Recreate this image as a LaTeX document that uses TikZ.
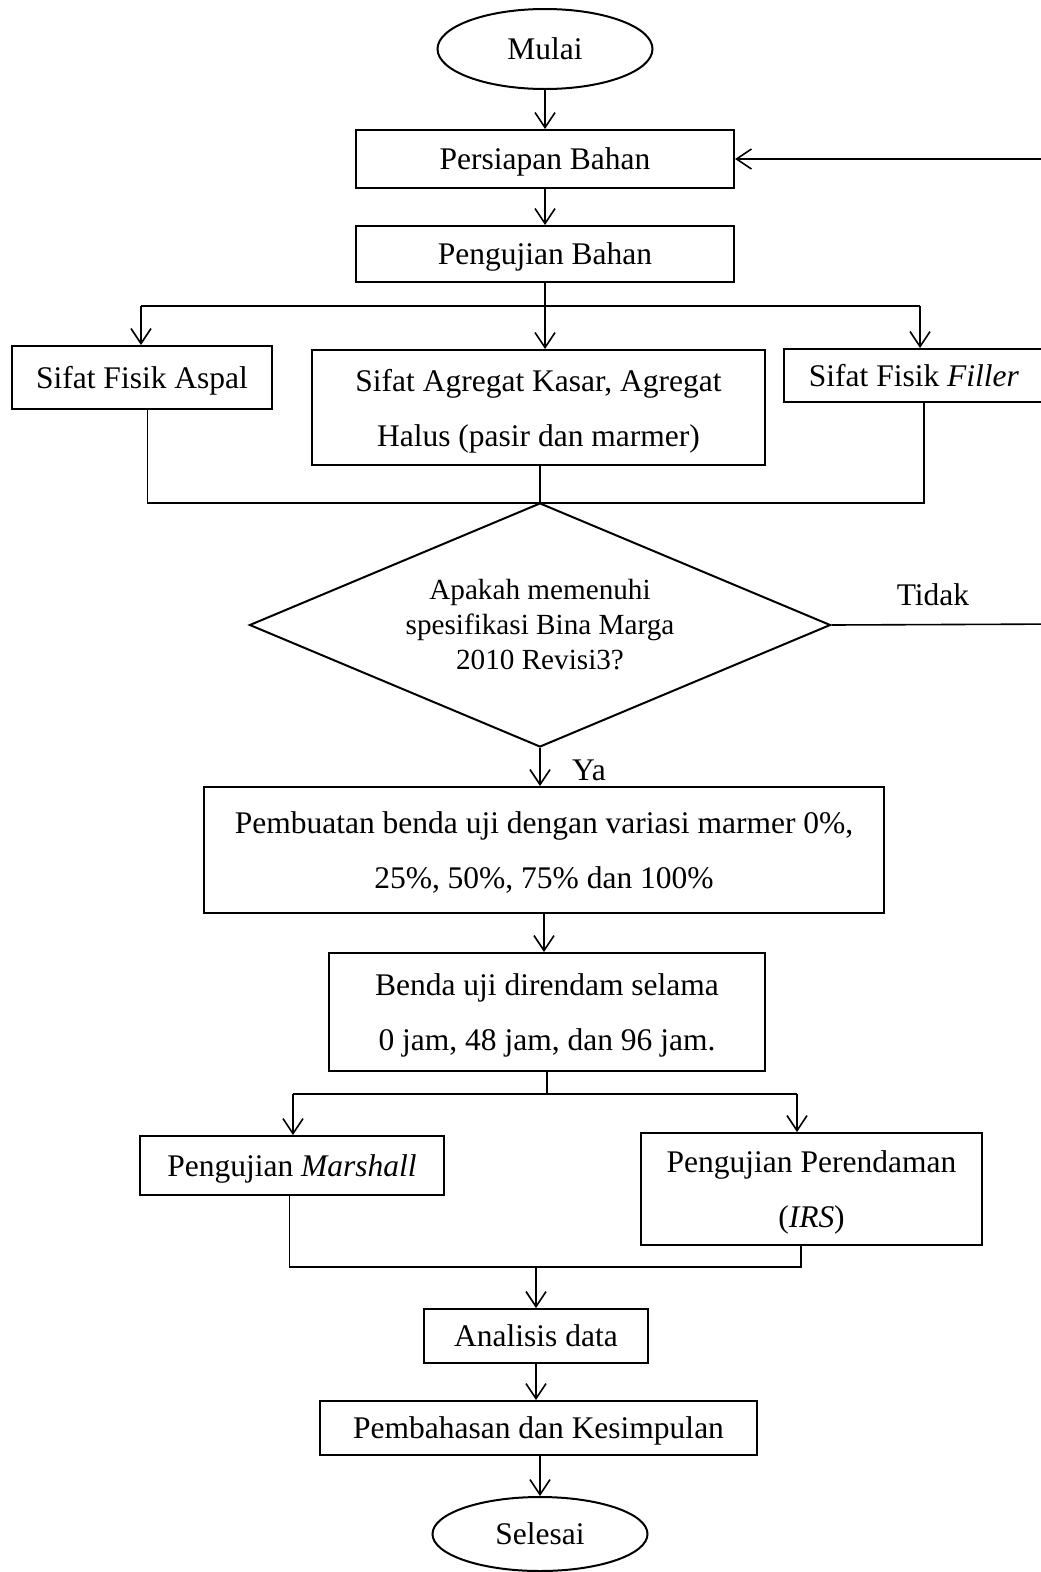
\documentclass[tikz,border=0pt]{standalone}
\usepackage{fontspec}
\setmainfont{Liberation Serif}
\usetikzlibrary{shapes.geometric,arrows.meta}

\begin{document}
\begin{tikzpicture}[x=1pt,y=-1pt,>={Straight Barb[length=15pt,width=20pt]},
	font=\fontsize{31.5}{55}\selectfont,
	kotak/.style={draw,line width=2pt,rectangle,inner sep=0pt,align=center,text depth=0pt},
	oval/.style={draw,line width=2pt,ellipse,inner sep=0pt},
	belah/.style={draw,line width=2pt,diamond,inner sep=0pt,aspect=2.4,align=center,font=\fontsize{29.2}{35}\selectfont},
	garis/.style={line width=1.6pt}]
			\clip (0,0) rectangle (1041,1572);
			\node[oval,minimum width=215pt,minimum height=80pt] (mulai) at (545,49) {Mulai};
			\node[kotak,minimum width=378pt,minimum height=58pt] (persiapan) at (545,159) {Persiapan Bahan};
			\node[kotak,minimum width=378pt,minimum height=56pt] (pengujian) at (545,254) {Pengujian Bahan};
			\node[kotak,minimum width=260pt,minimum height=63pt] (aspal) at (142,377.5) {Sifat Fisik Aspal};
			\node[kotak,minimum width=453pt,minimum height=115pt] (agregat) at (538.5,407.5) {Sifat Agregat Kasar, Agregat\\Halus (pasir dan marmer)};
			\node[kotak,minimum width=260pt,minimum height=53pt] (filler) at (914,375.5) {Sifat Fisik \textit{Filler}};
			\node[belah,minimum width=581pt,minimum height=244pt] (cek) at (540,625) {Apakah memenuhi\\spesifikasi Bina Marga\\2010 Revisi3?};
			\node (tidak) at (933,595) {Tidak};
			\node (ya) at (589,770) {Ya};
			\node[kotak,minimum width=680pt,minimum height=126pt] (pembuatan) at (544,850) {Pembuatan benda uji dengan variasi marmer 0\%,\\25\%, 50\%, 75\% dan 100\%};
			\node[kotak,minimum width=436pt,minimum height=118pt] (rendam) at (547,1012) {Benda uji direndam selama\\0 jam, 48 jam, dan 96 jam.};
			\node[kotak,minimum width=304pt,minimum height=59pt] (marshall) at (292,1165.5) {Pengujian \textit{Marshall}};
			\node[kotak,minimum width=341pt,minimum height=112pt] (irs) at (811.5,1189) {Pengujian Perendaman\\(\textit{IRS})};
			\node[kotak,minimum width=224pt,minimum height=54pt] (analisis) at (536,1336) {Analisis data};
			\node[kotak,minimum width=437pt,minimum height=54pt] (bahas) at (538.5,1428) {Pembahasan dan Kesimpulan};
			\node[oval,minimum width=215pt,minimum height=74pt] (selesai) at (540,1534) {Selesai};
			% titik cabang dan gabungan
			\coordinate (cabA) at (141,306);
			\coordinate (cabF) at (920,306);
			\coordinate (gabA) at (147.5,503);
			\coordinate (gabF) at (924,503);
			\coordinate (balik) at (1070,624);
			\coordinate (cabM) at (293,1094);
			\coordinate (cabI) at (797,1094);
			\coordinate (gabM) at (289.5,1267);
			\coordinate (gabI) at (801,1267);
			\path[garis,->]
				(mulai) edge (persiapan)
				(persiapan) edge (pengujian)
				(pengujian.south |- cabA) edge (pengujian.south |- agregat.north)
				(cabA) edge (cabA |- aspal.north)
				(cabF) edge (cabF |- filler.north)
				(cek.south) edge (cek.south |- pembuatan.north)
				(pembuatan.south) edge (pembuatan.south |- rendam.north)
				(cabM) edge (cabM |- marshall.north)
				(cabI) edge (cabI |- irs.north)
				(analisis.north |- gabM) edge (analisis.north)
				(analisis.south) edge (analisis.south |- bahas.north)
				(bahas.south -| selesai.north) edge (selesai.north);
			\draw[garis] (pengujian.south) -- (pengujian.south |- cabA);
			\draw[garis] (cabA) -- (cabF);
			\draw[garis] (gabA |- aspal.south) -- (gabA) -- (gabF) -- (gabF |- filler.south);
			\draw[garis] (agregat.south -| cek.north) -- (cek.north);
			\draw[garis,->] (cek.east) -- (balik) |- (persiapan.east);
			\draw[garis] (rendam.south) -- (rendam.south |- cabM);
			\draw[garis] (cabM) -- (cabI);
			\draw[garis] (gabM |- marshall.south) -- (gabM) -- (gabI) -- (gabI |- irs.south);
		\end{tikzpicture}
\end{document}
